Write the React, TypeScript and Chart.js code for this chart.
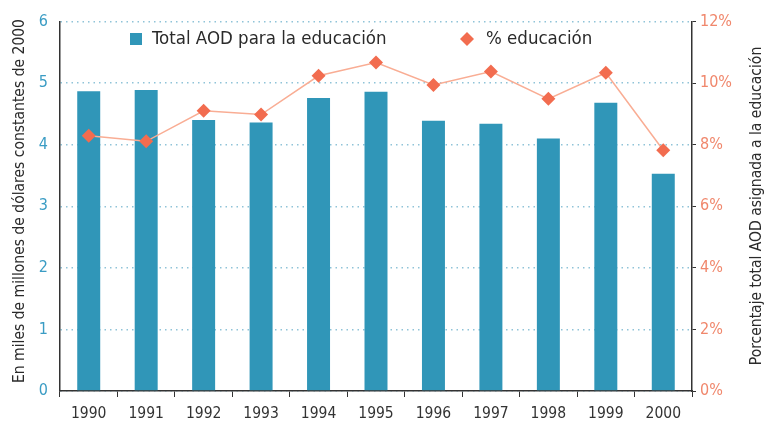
import React, { useEffect, useRef } from "react";
import { Chart, registerables } from "chart.js";

Chart.register(...registerables);

const years = ["1990", "1991", "1992", "1993", "1994", "1995", "1996", "1997", "1998", "1999", "2000"];
const totalAOD = [4.87, 4.89, 4.40, 4.36, 4.76, 4.86, 4.39, 4.34, 4.10, 4.68, 3.53];
const pctEducacion = [8.29, 8.11, 9.10, 8.98, 10.24, 10.67, 9.94, 10.38, 9.49, 10.34, 7.82];
const barLabel = "Total AOD para la educación";
const lineLabel = "% educación";
const leftTitle = "En miles de millones de dólares constantes de 2000";
const rightTitle = "Porcentaje total AOD asignada a la educación";

const FONT = "'DejaVu Sans Condensed', sans-serif";
const BAR = "#3096b8";
const DOT = "#f26c4f";
const LINE = "#f9ad94";

const overlayPlugin = {
  id: "overlay",
  afterDraw(chart: any) {
    const ctx = chart.ctx;
    const y = 39;
    ctx.save();
    ctx.font = `18.5px ${FONT}`;
    ctx.textBaseline = "middle";
    ctx.fillStyle = BAR;
    ctx.fillRect(130, y - 6, 12, 12);
    ctx.fillStyle = "#2a2a2a";
    ctx.fillText(barLabel, 152, y);
    ctx.fillStyle = DOT;
    ctx.beginPath();
    const cx = 467;
    ctx.moveTo(cx, y - 7);
    ctx.lineTo(cx + 7, y);
    ctx.lineTo(cx, y + 7);
    ctx.lineTo(cx - 7, y);
    ctx.closePath();
    ctx.fill();
    ctx.fillStyle = "#2a2a2a";
    ctx.fillText(lineLabel, 486, y);
    // axis titles (both read bottom-to-top)
    ctx.font = `15.5px ${FONT}`;
    ctx.textAlign = "center";
    ctx.save();
    ctx.translate(20, 201);
    ctx.rotate(-Math.PI / 2);
    ctx.fillText(leftTitle, 0, 0);
    ctx.restore();
    ctx.save();
    ctx.translate(757, 206);
    ctx.rotate(-Math.PI / 2);
    ctx.fillText(rightTitle, 0, 0);
    ctx.restore();
    ctx.restore();
  },
};

export default function App() {
  const ref = useRef<HTMLCanvasElement>(null);
  useEffect(() => {
    const chart = new Chart(ref.current as HTMLCanvasElement, {
      data: {
        labels: years,
        datasets: [
          {
            type: "line",
            label: lineLabel,
            data: pctEducacion,
            yAxisID: "y1",
            borderColor: LINE,
            borderWidth: 1.5,
            pointStyle: "rectRot",
            pointRadius: 7,
            pointBackgroundColor: DOT,
            pointBorderColor: DOT,
            pointBorderWidth: 0,
            order: 0,
          },
          {
            type: "bar",
            label: barLabel,
            data: totalAOD,
            yAxisID: "y",
            backgroundColor: BAR,
            barPercentage: 0.4,
            categoryPercentage: 1,
            order: 1,
          },
        ],
      } as any,
      options: {
        animation: false,
        responsive: true,
        maintainAspectRatio: false,
        layout: { padding: { top: 21, bottom: 0, left: 0, right: 0 } },
        plugins: { legend: { display: false }, tooltip: { enabled: false } },
        scales: {
          x: {
            offset: true,
            grid: { drawOnChartArea: false, offset: true, color: "#333", tickLength: 6 },
            border: { color: "#333", width: 1.5 },
            ticks: { color: "#333", font: { family: FONT, size: 15.5 }, padding: 8 },
            afterFit: (s: any) => { s.height = 32; },
          },
          y: {
            position: "left",
            min: 0,
            max: 6,
            ticks: { stepSize: 1, color: "#3a9cc4", font: { family: FONT, size: 16 }, padding: 12 },
            grid: { color: "#8fc3d8", lineWidth: 1.5, drawTicks: false },
            border: { color: "#333", width: 1.5, dash: [1.5, 4] },
            afterFit: (s: any) => { s.width = 60; },
          },
          y1: {
            position: "right",
            min: 0,
            max: 12,
            ticks: {
              stepSize: 2,
              color: "#f0876c",
              font: { family: FONT, size: 16 },
              padding: 4,
              callback: (v: any) => v + "%",
            },
            grid: { drawOnChartArea: false, color: "#333", tickLength: 4 },
            border: { color: "#333", width: 1.5 },
            afterFit: (s: any) => { s.width = 75; },
          },
        },
      } as any,
      plugins: [overlayPlugin],
    });
    return () => chart.destroy();
  }, []);
  return (
    <div style={{ position: "fixed", left: 0, top: 0, width: 767, height: 423 }}>
      <canvas ref={ref} />
    </div>
  );
}
